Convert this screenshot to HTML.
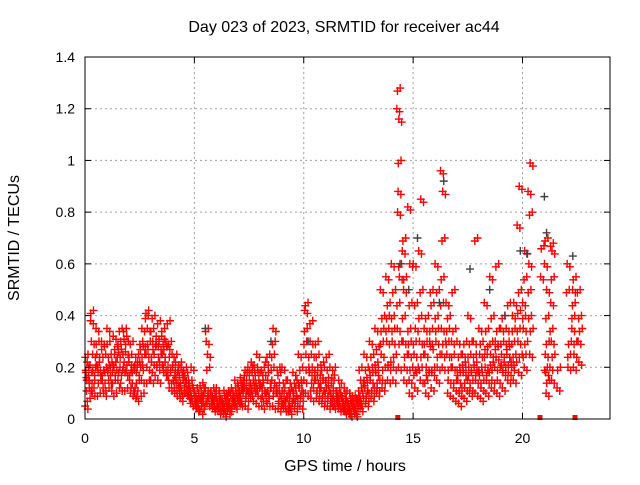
<!DOCTYPE html>
<html><head><meta charset="utf-8"><style>
body{margin:0;background:#fff;}
svg text{font-family:"Liberation Sans",sans-serif;font-size:14px;fill:#000;}
svg text.big{font-size:16px;}
</style></head><body>
<svg id="chart" width="640" height="480" xmlns="http://www.w3.org/2000/svg">
<text class="big" x="344" y="32" text-anchor="middle">Day 023 of 2023, SRMTID for receiver ac44</text>
<text class="big" x="345" y="471" text-anchor="middle">GPS time / hours</text>
<text class="big" transform="translate(19,238) rotate(-90)" text-anchor="middle">SRMTID / TECUs</text>
<g id="grid"></g><g id="marks"></g><g id="axes"></g>
</svg>
<script>
const xTicks=[0,5,10,15,20];
const yTicks=[0,0.2,0.4,0.6,0.8,1,1.2,1.4];
const yTickLabels=["0","0.2","0.4","0.6","0.8","1","1.2","1.4"];
const binWidth=0.25;
const redBins=[
[.15,.08,.25,.18,.12,.22,.05,.2,.16],[.1,.2,.42,.3,.15,.25,.38,.12,.18],[.2,.15,.3,.25,.1,.18,.35,.22],[.12,.2,.28,.15,.25,.1,.3,.18],
[.15,.22,.3,.18,.25,.12,.35,.2],[.2,.28,.15,.32,.1,.25,.18,.22],[.12,.25,.3,.18,.35,.2,.15,.27],[.18,.3,.35,.22,.12,.26,.2,.32],
[.1,.2,.25,.15,.3,.12,.22,.18],[.08,.15,.2,.12,.25,.18,.1,.22],[.15,.25,.3,.2,.1,.35,.22,.28],[.2,.3,.4,.25,.15,.35,.28,.42],
[.18,.28,.35,.22,.4,.3,.15,.25],[.15,.25,.3,.2,.38,.28,.32,.22],[.2,.28,.35,.25,.3,.18,.32,.22],[.15,.25,.38,.2,.3,.12,.28,.18],
[.12,.18,.22,.15,.25,.1,.2,.16],[.1,.15,.2,.12,.18,.08,.14,.22],[.1,.15,.2,.12,.18,.14,.16,.11],[.06,.1,.15,.08,.12,.2,.09,.13],
[.04,.08,.12,.06,.1,.05,.09,.07],[.05,.1,.14,.08,.12,.06,.03,.09],[.06,.1,.35,.3,.2,.25,.12,.08],[.04,.08,.12,.06,.1,.05,.09,.07],
[.03,.06,.1,.05,.08,.04,.12,.07],[.02,.05,.09,.04,.07,.11,.06,.08],[.04,.07,.1,.05,.12,.06,.03,.09],[.05,.08,.12,.06,.1,.15,.07,.09],
[.06,.1,.14,.08,.12,.16,.07,.11],[.05,.1,.15,.12,.2,.08,.13,.18],[.08,.12,.18,.1,.15,.22,.13,.2],[.06,.12,.2,.1,.15,.25,.13,.18],
[.05,.1,.15,.08,.2,.12,.18,.14],[.06,.12,.18,.1,.25,.15,.22,.08],[.05,.1,.2,.15,.3,.35,.12,.25],[.04,.08,.14,.1,.18,.06,.12,.2],
[.04,.08,.12,.06,.15,.1,.2,.07],[.03,.06,.1,.05,.12,.08,.15,.04],[.04,.08,.12,.1,.15,.06,.18,.09],[.05,.1,.15,.12,.2,.08,.25,.14],
[.1,.2,.3,.42,.45,.25,.15,.35],[.08,.15,.2,.3,.12,.25,.18,.38],[.08,.12,.2,.15,.25,.1,.18,.3],[.06,.1,.15,.12,.2,.08,.17,.22],
[.05,.1,.16,.12,.2,.08,.14,.25],[.05,.1,.15,.08,.2,.12,.06,.17],[.04,.08,.12,.06,.1,.15,.07,.09],[.03,.06,.1,.05,.08,.12,.04,.07],
[.02,.05,.08,.04,.06,.1,.03,.07],[.02,.04,.07,.03,.06,.09,.05,.08],[.04,.08,.12,.06,.1,.15,.07,.2],[.06,.1,.16,.12,.2,.08,.25,.14],
[.08,.12,.2,.15,.25,.1,.3,.18],[.1,.15,.22,.18,.28,.12,.35,.2],[.12,.2,.3,.25,.4,.15,.5,.35],[.15,.22,.35,.3,.45,.2,.55,.4],
[.15,.25,.4,.3,.5,.2,.6,.35],[.2,.3,.45,.8,1.0,1.16,1.2,1.28,.88,.6,.55,.35],[.15,.25,.4,.3,.55,.2,.65,.7,.5],[.1,.2,.35,.25,.45,.6,.82,.3,.15],
[.12,.2,.3,.25,.45,.35,.6,.18],[.15,.25,.4,.3,.5,.85,.65,.2],[.1,.18,.3,.25,.4,.2,.35,.15],[.12,.2,.35,.28,.45,.18,.3,.5],
[.15,.25,.4,.3,.5,.2,.6,.35],[.2,.3,.45,.35,.7,.88,.96,.55,.25],[.1,.2,.3,.25,.4,.15,.45,.35],[.08,.15,.25,.2,.35,.12,.3,.5],
[.06,.12,.2,.15,.25,.1,.3,.18],[.08,.15,.22,.18,.3,.12,.25,.2],[.1,.15,.25,.2,.3,.12,.4,.18],[.1,.18,.25,.2,.7,.15,.3,.22],
[.08,.15,.2,.25,.3,.12,.35,.18],[.1,.18,.25,.2,.35,.15,.45,.28],[.12,.2,.3,.25,.4,.15,.55,.22],[.1,.2,.28,.24,.35,.15,.3,.6],
[.12,.2,.3,.25,.4,.18,.35,.22],[.15,.22,.3,.25,.45,.18,.35,.28],[.15,.22,.3,.4,.25,.45,.2,.35],[.18,.25,.35,.3,.5,.9,.75,.42],
[.2,.3,.4,.35,.55,.65,.45,.25],[.25,.35,.5,.6,.8,.99,.88,.4],[],[.55,.67],
[.1,.15,.2,.25,.4,.5,.6,.7,.18,.3],[.15,.25,.35,.45,.55,.65,.2,.68,.3],[.12,.2],[],
[.2,.3,.5,.6,.25],[.2,.3,.4,.5,.55,.25,.35,.45],[.22,.35,.5,.3,.4],[]
];
const grayX=[14.4,15.2,16.4,17.6,19.9,21,21.1,22.3,5.5,8.5,14.8,16.2,19.2,20.2,18.5,10.2];
const grayY=[.6,.7,.92,.58,.65,.86,.72,.63,.35,.3,.5,.45,.4,.64,.5,.3];
const flagX=[14.3,20.8,22.4];

const L=85,R=610,T=57,B=419,XMAX=24,YMAX=1.4;
const sx=v=>L+(R-L)*v/XMAX, sy=v=>B-(B-T)*v/YMAX;
const NS="http://www.w3.org/2000/svg";
function mk(tag,attrs,parent){const e=document.createElementNS(NS,tag);for(const k in attrs)e.setAttribute(k,attrs[k]);parent.appendChild(e);return e;}
const grid=document.getElementById('grid'),marks=document.getElementById('marks'),axes=document.getElementById('axes');
yTicks.forEach((t,i)=>{
  if(t>0&&t<YMAX){const g=mk('line',{x1:L,x2:R,y1:sy(t),y2:sy(t),stroke:'#a0a0a0','stroke-dasharray':'2,3'},grid);
  
  }
  mk('line',{x1:L,x2:L+6,y1:sy(t),y2:sy(t),stroke:'#000'},axes);
  mk('line',{x1:R,x2:R-6,y1:sy(t),y2:sy(t),stroke:'#000'},axes);
  const tx=mk('text',{x:L-10,y:sy(t)+5,'text-anchor':'end'},axes);tx.textContent=yTickLabels[i];
  
  
});
xTicks.forEach(t=>{
  if(t>0){const g=mk('line',{x1:sx(t),x2:sx(t),y1:T,y2:B,stroke:'#a0a0a0','stroke-dasharray':'2,3'},grid);
  
  }
  mk('line',{x1:sx(t),x2:sx(t),y1:B,y2:B-6,stroke:'#000'},axes);
  mk('line',{x1:sx(t),x2:sx(t),y1:T,y2:T+6,stroke:'#000'},axes);
  const tx=mk('text',{x:sx(t),y:B+24,'text-anchor':'middle'},axes);tx.textContent=String(t);
  
  
});
const frame=mk('rect',{x:L,y:T,width:R-L,height:B-T,fill:'none',stroke:'#000'},axes);


function plus(x,y,color){
  return mk('path',{d:`M${x-4},${y}h8M${x},${y-4}v8`,stroke:color,'stroke-width':1.4,fill:'none'},marks);
}
const spread=[0.31,0.81];
redBins.forEach((bin,b)=>{
  bin.forEach((v,i)=>{
    spread.forEach(s=>{
      const frac=((i*0.618+s)%1);
      const p=plus(sx(b*binWidth+frac*binWidth),sy(v)+(s>0.5?3:0),'#ff0000');
      
      
    });
  });
});
grayX.forEach((x,i)=>{
  const p=plus(sx(x),sy(grayY[i]),'#404040');
  
  
});
flagX.forEach(x=>{
  const r=mk('rect',{x:sx(x)-2.5,y:B-4,width:5,height:5,fill:'#ff0000'},marks);
  
  
});
</script>
</body></html>
